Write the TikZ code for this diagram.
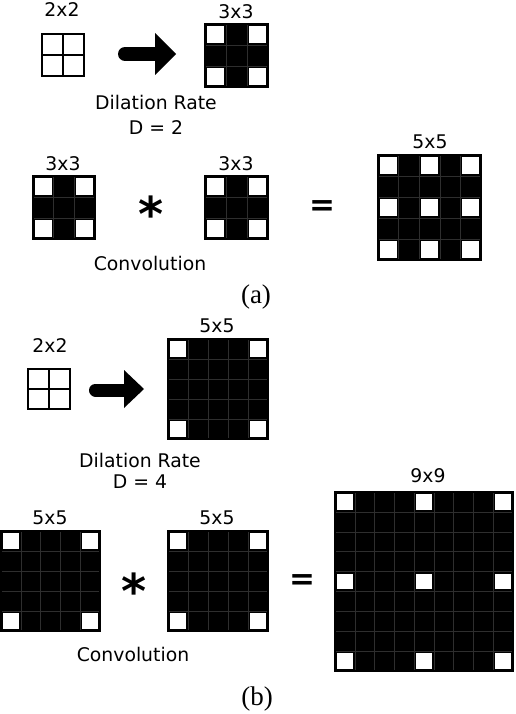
\documentclass[tikz,border=0pt]{standalone}
\usepackage{fontspec}
\setmainfont{DejaVu Sans}
\newfontfamily\capfont{Liberation Serif}
\newfontfamily\symfont{DejaVu Sans}
\tikzset{
  lbl/.style={inner sep=0pt, font=\fontsize{18.8}{22}\selectfont},
  captext/.style={inner sep=0pt, font=\capfont\fontsize{27}{30}\selectfont},
  opsym/.style={inner sep=0pt, font=\symfont\bfseries\fontsize{#1}{#1}\selectfont},
  gridline/.style={draw=black!82, line width=0.5pt},
  outer/.style={draw=black, line width=2.2pt},
  plaingrid/.style={draw=black, line width=2.4pt},
  arrowshaft/.style={draw=black, line cap=round},
}
\newcommand\dgrid[6]{%
  \fill[black] (#1,#2) rectangle (#3,#4);
  \pgfmathsetmacro\cw{(#3-#1)/#5}%
  \pgfmathsetmacro\ch{(#4-#2)/#5}%
  \pgfmathtruncatemacro\nm{#5-1}%
  \foreach \k in {1,...,\nm}{%
    \draw[gridline] ({#1+\k*\cw},#2) -- ({#1+\k*\cw},#4);
    \draw[gridline] (#1,{#2+\k*\ch}) -- (#3,{#2+\k*\ch});
  }
  \foreach \i in {0,...,\nm}{\foreach \j in {0,...,\nm}{%
    \pgfmathtruncatemacro\w{mod(\i,#6)+mod(\j,#6)}%
    \ifnum\w=0
      \fill[white] ({#1+\i*\cw+2},{#2+\j*\ch+2}) rectangle ({#1+(\i+1)*\cw-2},{#2+(\j+1)*\ch-2});
    \fi
  }}
  \draw[outer] (#1,#2) rectangle (#3,#4);
}
\newcommand\twogrid[4]{%
  \draw[plaingrid] (#1,#2) rectangle (#3,#4);
  \draw[plaingrid] ({(#1+#3)/2},#2) -- ({(#1+#3)/2},#4);
  \draw[plaingrid] (#1,{(#2+#4)/2}) -- (#3,{(#2+#4)/2});
}
\begin{document}
\begin{tikzpicture}[x=1pt,y=-1pt]
\useasboundingbox (0,0) rectangle (516,714);
\fill[white] (0,0) rectangle (516,714);

% ---------- (a) ----------
\twogrid{42}{34}{84}{76}
\node[lbl] (a22) at (62,10) {2x2};
\draw[arrowshaft, line width=14pt] (125,54) -- (156,54);
\fill[black] (155,33) -- (176,54) -- (155,75) -- cycle;
\dgrid{205}{24}{268}{87}{3}{2}
\node[lbl] (a33top) at (236,12) {3x3};
\node[lbl] (adil) at (156,102.5) {Dilation Rate};
\node[lbl] (ad) at (156,128) {D = 2};

\dgrid{33}{176}{95}{239}{3}{2}
\node[lbl] (a33l) at (63,164) {3x3};
\node[opsym=48] (aast) at (151,214) {*};
\dgrid{205}{176}{268}{239}{3}{2}
\node[lbl] (a33m) at (236,164) {3x3};
\node[opsym=31] (aeq) at (322,208) {=};
\dgrid{378}{155}{481}{260}{5}{2}
\node[lbl] (a55) at (430,141.5) {5x5};
\node[lbl] (aconv) at (150,263) {Convolution};
\node[captext] (acap) at (256,297) {(a)};

% ---------- (b) ----------
\twogrid{28}{369}{70}{409}
\node[lbl] (b22) at (50,346) {2x2};
\draw[arrowshaft, line width=13pt] (95.5,390) -- (125,390);
\fill[black] (124,370) -- (144,389) -- (124,408) -- cycle;
\dgrid{168}{339}{268}{439}{5}{4}
\node[lbl] (b55top) at (217,326) {5x5};
\node[lbl] (bdil) at (140,460) {Dilation Rate};
\node[lbl] (bd) at (140,482) {D = 4};

\dgrid{1}{531}{100}{631}{5}{4}
\node[lbl] (b55l) at (50,518) {5x5};
\node[opsym=48] (bast) at (134,591) {*};
\dgrid{168}{531}{268}{631}{5}{4}
\node[lbl] (b55m) at (217,518) {5x5};
\node[opsym=31] (beq) at (302,582) {=};
\dgrid{335}{492}{513}{671}{9}{4}
\node[lbl] (b99) at (428,476) {9x9};
\node[lbl] (bconv) at (133,654.5) {Convolution};
\node[captext] (bcap) at (257,699) {(b)};
\end{tikzpicture}
\end{document}
